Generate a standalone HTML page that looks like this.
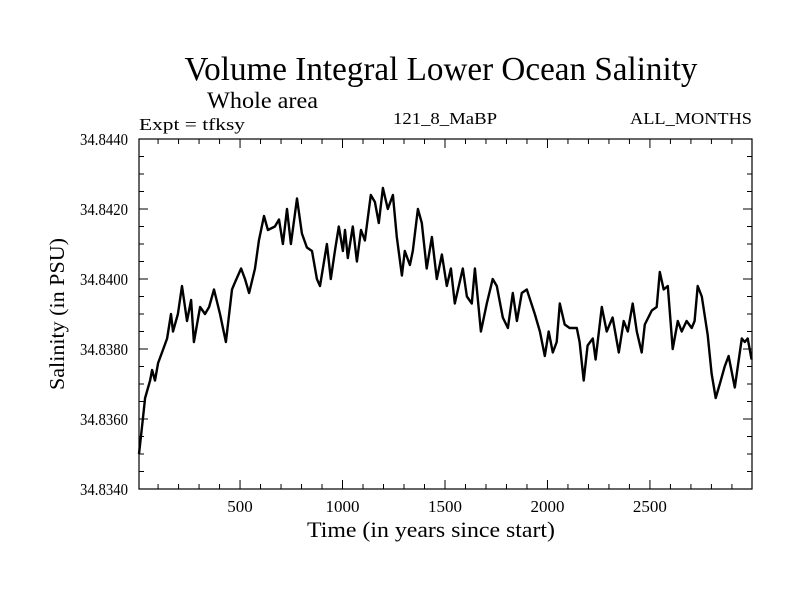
<!DOCTYPE html>
<html><head><meta charset="utf-8"><style>
html,body{margin:0;padding:0;background:#fff;}
svg{display:block;font-family:"Liberation Serif",serif;}
</style></head><body>
<svg id="chart" width="800" height="600" viewBox="0 0 800 600">
<text x="441" y="80" font-size="34" text-anchor="middle" textLength="513" lengthAdjust="spacingAndGlyphs">Volume Integral Lower Ocean Salinity</text>
<text x="207" y="108" font-size="23" textLength="111" lengthAdjust="spacingAndGlyphs">Whole area</text>
<text x="139" y="130" font-size="17" textLength="106" lengthAdjust="spacingAndGlyphs">Expt = tfksy</text>
<text x="393" y="124" font-size="17" textLength="104" lengthAdjust="spacingAndGlyphs">121_8_MaBP</text>
<text x="752" y="124" font-size="17" text-anchor="end" textLength="122" lengthAdjust="spacingAndGlyphs">ALL_MONTHS</text>
<text x="431" y="537" font-size="22" text-anchor="middle" textLength="248" lengthAdjust="spacingAndGlyphs">Time (in years since start)</text>
<text transform="translate(64,314) rotate(-90)" font-size="21" text-anchor="middle" textLength="152" lengthAdjust="spacingAndGlyphs">Salinity (in PSU)</text>
<g id="axes"></g>
<g id="series"></g>
</svg>
<script>
const years = [7,22,37,61,71,85,100,119,144,163,173,197,217,241,261,275,305,329,349,373,402,431,461,475,505,524,544,573,592,617,636,670,690,709,729,748,778,802,826,851,875,890,924,943,963,982,1002,1012,1026,1050,1070,1090,1109,1138,1158,1177,1197,1221,1246,1265,1290,1304,1329,1343,1368,1387,1411,1436,1460,1485,1509,1529,1548,1587,1607,1631,1646,1675,1704,1733,1753,1782,1807,1831,1851,1875,1899,1938,1963,1987,2006,2026,2045,2060,2084,2108,2143,2157,2177,2196,2221,2235,2265,2289,2318,2348,2372,2392,2416,2436,2460,2475,2509,2533,2548,2567,2587,2611,2636,2655,2679,2704,2718,2733,2753,2782,2801,2821,2841,2865,2884,2914,2948,2963,2977,2996];
const salinity = [34.8350,34.8358,34.8366,34.8371,34.8374,34.8371,34.8376,34.8379,34.8383,34.8390,34.8385,34.8390,34.8398,34.8388,34.8394,34.8382,34.8392,34.8390,34.8392,34.8397,34.8390,34.8382,34.8397,34.8399,34.8403,34.8400,34.8396,34.8403,34.8411,34.8418,34.8414,34.8415,34.8417,34.8410,34.8420,34.8410,34.8423,34.8413,34.8409,34.8408,34.8400,34.8398,34.8410,34.8400,34.8408,34.8415,34.8408,34.8414,34.8406,34.8415,34.8405,34.8414,34.8411,34.8424,34.8422,34.8416,34.8426,34.8420,34.8424,34.8412,34.8401,34.8408,34.8404,34.8408,34.8420,34.8416,34.8403,34.8412,34.8400,34.8407,34.8398,34.8403,34.8393,34.8403,34.8395,34.8393,34.8403,34.8385,34.8393,34.8400,34.8398,34.8389,34.8386,34.8396,34.8388,34.8396,34.8397,34.8390,34.8385,34.8378,34.8385,34.8379,34.8382,34.8393,34.8387,34.8386,34.8386,34.8382,34.8371,34.8381,34.8383,34.8377,34.8392,34.8385,34.8389,34.8379,34.8388,34.8385,34.8393,34.8385,34.8379,34.8387,34.8391,34.8392,34.8402,34.8397,34.8398,34.8380,34.8388,34.8385,34.8388,34.8386,34.8388,34.8398,34.8395,34.8384,34.8373,34.8366,34.8370,34.8375,34.8378,34.8369,34.8383,34.8382,34.8383,34.8377];
const xTicks = [500,1000,1500,2000,2500];
const xTickLabels = ["500","1000","1500","2000","2500"];
const yTicks = [34.834,34.836,34.838,34.840,34.842,34.844];
const yTickLabels = ["34.8340","34.8360","34.8380","34.8400","34.8420","34.8440"];

const L=139,R=752,T=139,B=489, X0=7, X1=2998, Y0=34.834, Y1=34.844;
function xs(v){return L+(v-X0)/(X1-X0)*(R-L);}
function ys(v){return B-(v-Y0)/(Y1-Y0)*(B-T);}
const NS='http://www.w3.org/2000/svg';
const axes=document.getElementById('axes');
function mk(tag,attrs,parent){const e=document.createElementNS(NS,tag);for(const k in attrs)e.setAttribute(k,attrs[k]);parent.appendChild(e);return e;}
const frame=mk('rect',{x:L,y:T,width:R-L,height:B-T,fill:'none',stroke:'#000','stroke-width':1.2},axes);


for(let v=100;v<X1;v+=100){
  const major=v%500===0, len=major?9:5, x=xs(v);
  const t1=mk('line',{x1:x,x2:x,y1:B,y2:B-len,stroke:'#000','stroke-width':1},axes);
  
  
  const t2=mk('line',{x1:x,x2:x,y1:T,y2:T+len,stroke:'#000','stroke-width':1},axes);
  
  
}
xTicks.forEach((v,i)=>{
  const t=mk('text',{x:xs(v),y:512,'font-size':17,'text-anchor':'middle'},axes);
  t.textContent=xTickLabels[i];
  
  
});
for(let k=1;k<20;k++){
  const v=Y0+k*0.0005, major=k%4===0, len=major?9:5, y=ys(v);
  const t1=mk('line',{x1:L,x2:L+len,y1:y,y2:y,stroke:'#000','stroke-width':1},axes);
  
  
  const t2=mk('line',{x1:R,x2:R-len,y1:y,y2:y,stroke:'#000','stroke-width':1},axes);
  
  
}
yTicks.forEach((v,i)=>{
  const t=mk('text',{x:128,y:ys(v)+6,'font-size':17,'text-anchor':'end',textLength:48,lengthAdjust:'spacingAndGlyphs'},axes);
  t.textContent=yTickLabels[i];
  
  
});
const series=document.getElementById('series');
const d=years.map((yr,i)=>(i?'L':'M')+xs(yr).toFixed(1)+','+ys(salinity[i]).toFixed(1)).join('');
const p=mk('path',{d:d,fill:'none',stroke:'#000','stroke-width':2.4,'stroke-linejoin':'round'},series);


</script>
</body></html>
